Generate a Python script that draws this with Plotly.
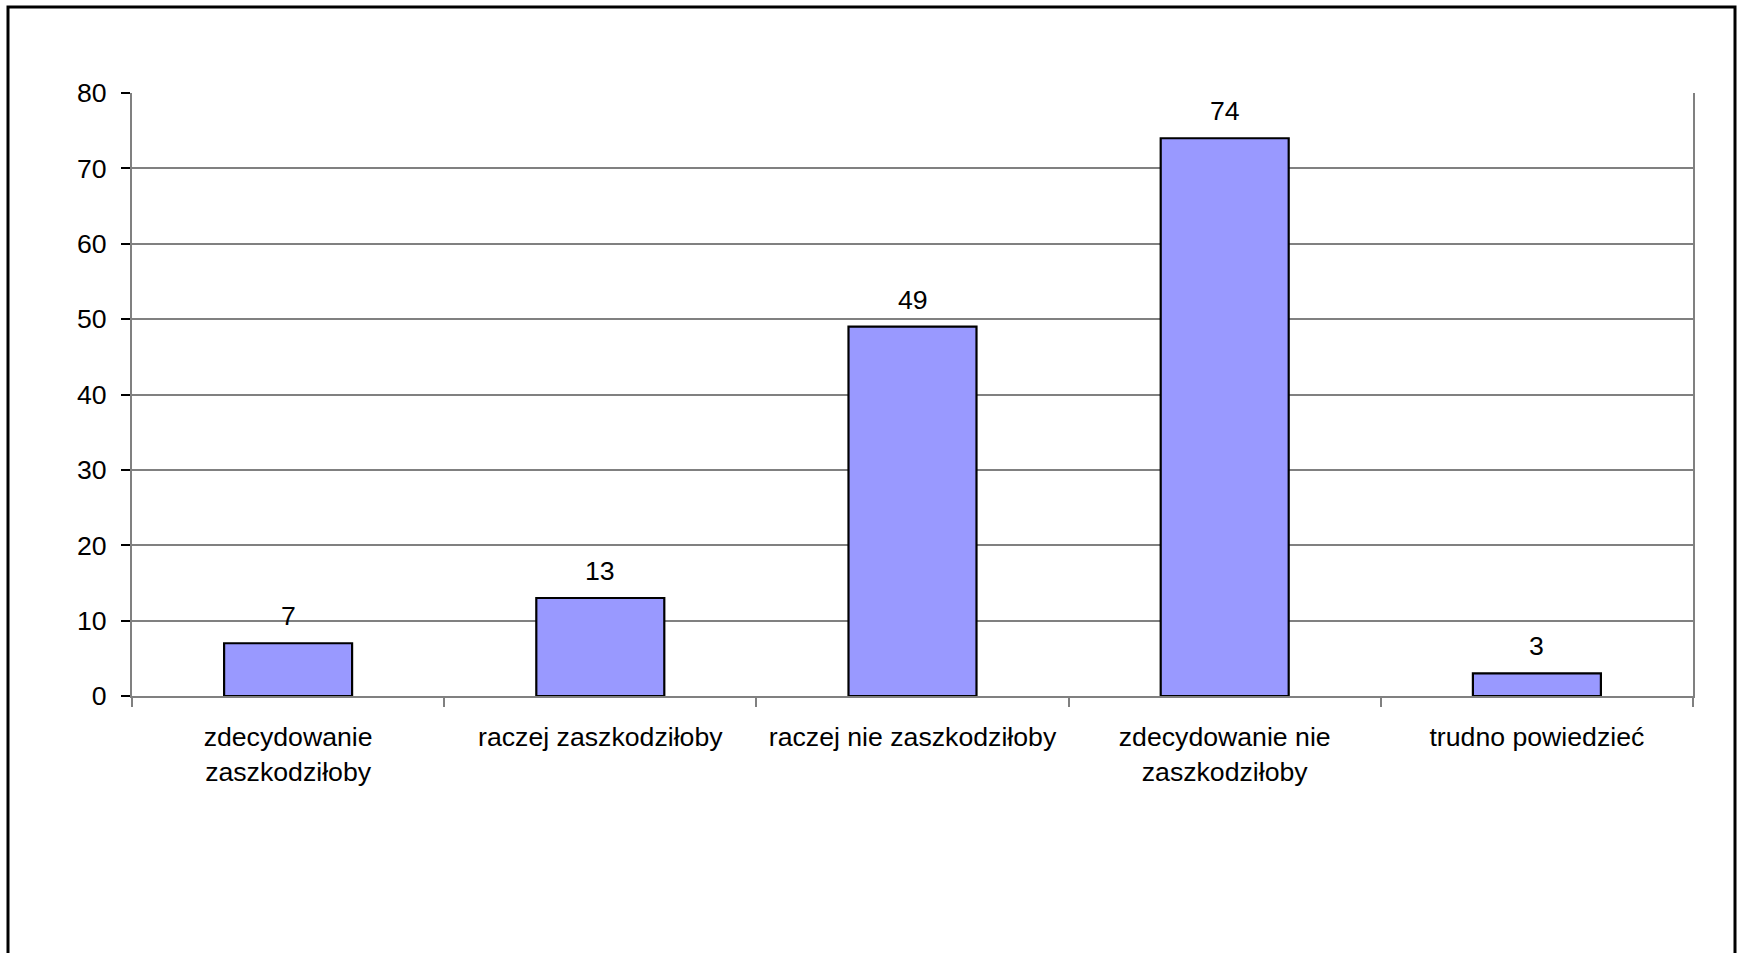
import plotly.graph_objects as go

categories = ["zdecydowanie<br>zaszkodziłoby", "raczej zaszkodziłoby", "raczej nie zaszkodziłoby",
              "zdecydowanie nie<br>zaszkodziłoby", "trudno powiedzieć"]
values = [7, 13, 49, 74, 3]
y_ticks = [0, 10, 20, 30, 40, 50, 60, 70, 80]

FONT = "Liberation Sans, Arial, sans-serif"
FS = 26.67

W, H = 1744, 953
L, R, T, B = 132, 51, 93, 257
pw = W - L - R
ph = H - T - B

fig = go.Figure()
fig.add_trace(go.Bar(
    x=categories, y=values,
    marker=dict(color="#9999FF", line=dict(color="#000000", width=2.2)),
    width=0.41,
    hoverinfo="skip",
))

for c, v in zip(categories, values):
    fig.add_annotation(x=c, y=v, text=str(v), showarrow=False,
                       yanchor="bottom", yshift=10,
                       font=dict(family=FONT, size=FS, color="#000000"))

# outer chart frame
bx0 = (8 - L) / pw
bx1 = (1735 - L) / pw
by1 = (H - B - 7) / ph
fig.add_shape(type="rect", xref="paper", yref="paper",
              x0=bx0, x1=bx1, y0=-1.0, y1=by1,
              line=dict(color="#000000", width=3), fillcolor="rgba(0,0,0,0)", layer="below")

fig.update_layout(
    width=W, height=H,
    margin=dict(l=L, r=R, t=T, b=B, autoexpand=False),
    paper_bgcolor="white", plot_bgcolor="white",
    showlegend=False,
    font=dict(family=FONT, size=FS, color="#000000"),
    xaxis=dict(
        type="category",
        tickson="boundaries", ticks="outside", ticklen=9, tickcolor="#808080", tickwidth=1.5,
        showline=True, linecolor="#808080", linewidth=2,
        showgrid=False, mirror=False,
        tickfont=dict(family=FONT, size=FS, color="#000000"),
        ticklabelstandoff=16,
    ),
    yaxis=dict(
        range=[0, 80], tickvals=y_ticks,
        ticks="outside", ticklen=9, tickcolor="#000000", tickwidth=1.5,
        showline=True, linecolor="#808080", linewidth=2, mirror=True,
        showgrid=True, gridcolor="#808080", gridwidth=1.5,
        zeroline=False,
        tickfont=dict(family=FONT, size=FS, color="#000000"),
        ticklabelstandoff=9,
    ),
)

fig.write_html("out.html", config={"displayModeBar": False},
               post_script="document.body.style.margin='0';document.body.style.overflow='hidden';")
